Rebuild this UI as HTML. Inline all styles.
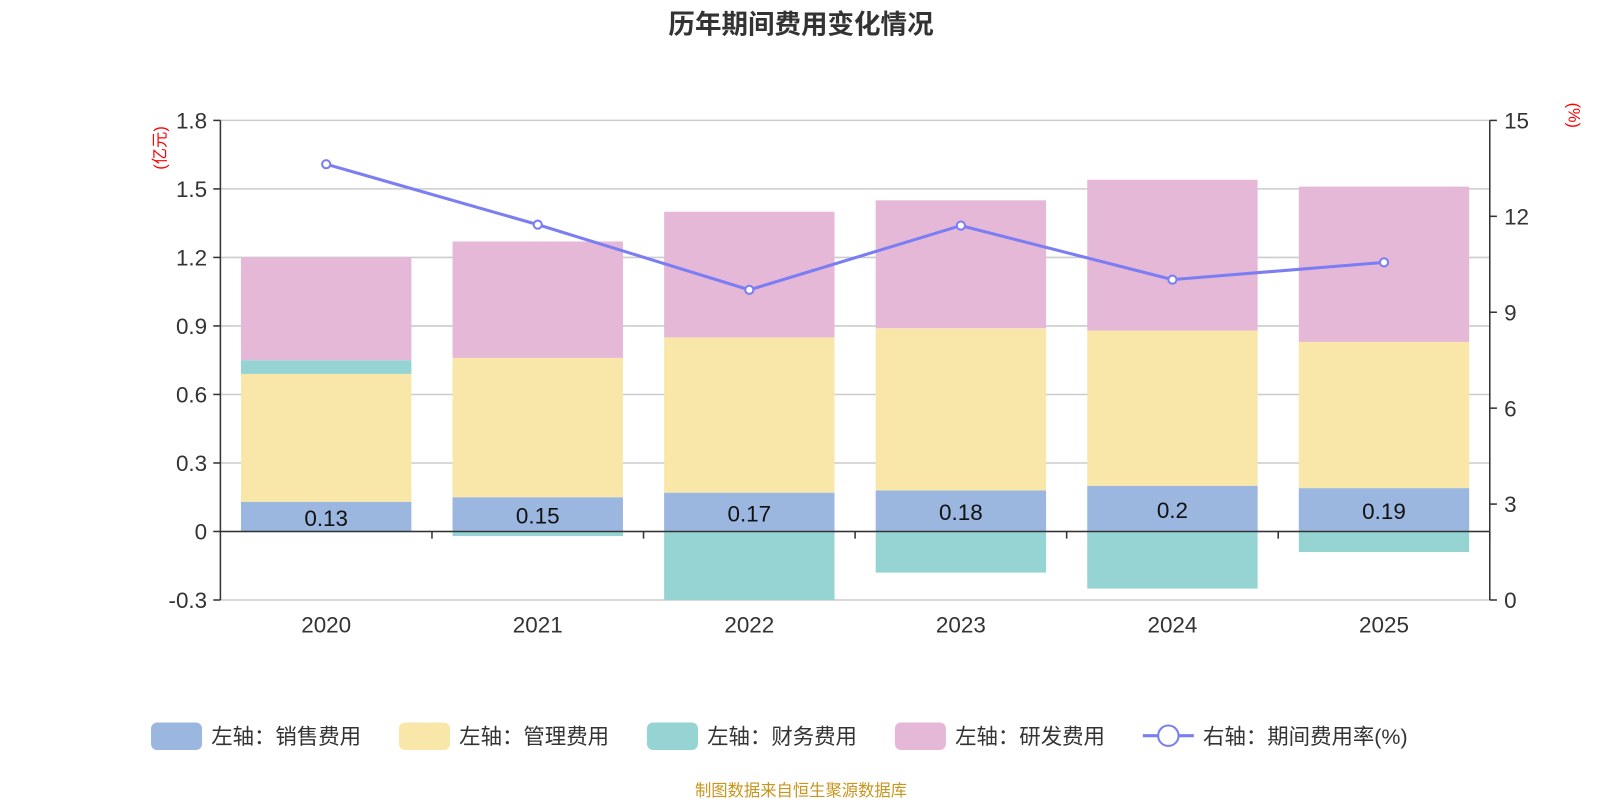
<!DOCTYPE html>
<html><head><meta charset="utf-8"><style>
body{margin:0;background:#fff;font-family:"Liberation Sans","Noto Sans CJK SC",sans-serif;}
svg text{font-family:"Liberation Sans","Noto Sans CJK SC",sans-serif;}
</style></head><body>
<svg id="chart" width="1600" height="800" xmlns="http://www.w3.org/2000/svg">
<g transform="scale(1.0204)">
<text x="785" y="33" text-anchor="middle" font-size="26" font-weight="bold" fill="#333">历年期间费用变化情况</text>
<g id="grid"></g><g id="bars"></g><g id="axes"></g><g id="line"></g>
<text transform="translate(162,145) rotate(-90)" text-anchor="middle" font-size="16" fill="red">(亿元)</text>
<text transform="translate(1537,113) rotate(90)" text-anchor="middle" font-size="16" fill="red">(%)</text>
<g>
<g><rect x="148" y="708" width="50" height="27" rx="6" fill="#9bb7e0"/><text x="207" y="729" font-size="21" fill="#333">左轴：销售费用</text></g>
<g><rect x="391" y="708" width="50" height="27" rx="6" fill="#f8e7a8"/><text x="450" y="729" font-size="21" fill="#333">左轴：管理费用</text></g>
<g><rect x="634" y="708" width="50" height="27" rx="6" fill="#96d4d4"/><text x="693" y="729" font-size="21" fill="#333">左轴：财务费用</text></g>
<g><rect x="877" y="708" width="50" height="27" rx="6" fill="#e6b8d8"/><text x="936" y="729" font-size="21" fill="#333">左轴：研发费用</text></g>
<g><line x1="1120" y1="721" x2="1170" y2="721" stroke="#7b7ef2" stroke-width="3"/><circle cx="1145" cy="721" r="10" fill="#fff" stroke="#7b7ef2" stroke-width="2"/><text x="1179" y="729" font-size="21" fill="#333">右轴：期间费用率(%)</text></g>
</g>
<text x="785" y="780" text-anchor="middle" font-size="16" fill="#c8961e">制图数据来自恒生聚源数据库</text>
</g>
</svg>
<script>
const years=["2020","2021","2022","2023","2024","2025"];
const sales=[0.13,0.15,0.17,0.18,0.2,0.19];
const admin=[0.56,0.61,0.68,0.71,0.68,0.64];
const finance=[0.06,-0.02,-0.30,-0.18,-0.25,-0.09];
const rd=[0.45,0.51,0.55,0.56,0.66,0.68];
const rate=[13.63,11.74,9.70,11.71,10.02,10.56];
const leftTicks=[-0.3,0,0.3,0.6,0.9,1.2,1.5,1.8];
const rightTicks=[0,3,6,9,12,15];
const NS="http://www.w3.org/2000/svg";
const X0=216,X1=1460,TOP=118,BOT=588;
const yL=v=>BOT-(v+0.3)/2.1*(BOT-TOP);
const yR=v=>BOT-v/15*(BOT-TOP);
const cw=(X1-X0)/years.length;
const xC=i=>X0+cw*(i+0.5);
function mk(t,a,p){const e=document.createElementNS(NS,t);for(const k in a)e.setAttribute(k,a[k]);p.appendChild(e);return e;}
const grid=document.getElementById('grid'),bars=document.getElementById('bars'),axes=document.getElementById('axes'),line=document.getElementById('line');
leftTicks.forEach(v=>{const y=yL(v);
 const g=mk('line',{x1:X0,x2:X1,y1:y,y2:y,stroke:'#ccc','stroke-width':1.5},grid);
 
 
 mk('line',{x1:X0-7,x2:X0,y1:y,y2:y,stroke:'#333','stroke-width':1.5},axes);
 const t=mk('text',{x:X0-13,y:y+8,'text-anchor':'end','font-size':22,fill:'#333'},axes);t.textContent=String(v);
 
 });
rightTicks.forEach(v=>{const y=yR(v);
 mk('line',{x1:X1,x2:X1+7,y1:y,y2:y,stroke:'#333','stroke-width':1.5},axes);
 const t=mk('text',{x:X1+14,y:y+8,'font-size':22,fill:'#333'},axes);t.textContent=String(v);
 
 });
mk('line',{x1:X0,x2:X0,y1:TOP,y2:BOT,stroke:'#333','stroke-width':1.5},axes);
mk('line',{x1:X1,x2:X1,y1:TOP,y2:BOT,stroke:'#333','stroke-width':1.5},axes);
mk('line',{x1:X0,x2:X1,y1:yL(0),y2:yL(0),stroke:'#333','stroke-width':1.5},axes);
const bw=167;
years.forEach((yr,i)=>{
 mk('line',{x1:X0+cw*(i+1),x2:X0+cw*(i+1),y1:yL(0),y2:yL(0)+7,stroke:'#333','stroke-width':1.5},axes);
 const t=mk('text',{x:xC(i),y:620,'text-anchor':'middle','font-size':22,fill:'#333'},axes);t.textContent=yr;
 
 
 let pos=0,neg=0;
 [[sales,'#9bb7e0','bar-sales'],[admin,'#f8e7a8','bar-admin'],[finance,'#96d4d4','bar-finance'],[rd,'#e6b8d8','bar-rd']].forEach(([arr,c,n])=>{
  const v=arr[i];let a,b;
  if(v>=0){a=pos;b=pos+v;pos=b;}else{a=neg;b=neg+v;neg=b;}
  const y1=yL(Math.max(a,b)),y2=yL(Math.min(a,b));
  const r=mk('rect',{x:xC(i)-bw/2,y:y1,width:bw,height:y2-y1,fill:c},bars);
  
  
 });
 const lb=mk('text',{x:xC(i),y:(yL(0)+yL(sales[i]))/2+9,'text-anchor':'middle','font-size':22,fill:'#111'},bars);lb.textContent=String(sales[i]);
 
 
});
const pts=rate.map((v,i)=>xC(i)+','+yR(v)).join(' ');
const pl=mk('polyline',{points:pts,fill:'none',stroke:'#7b7ef2','stroke-width':3},line);


rate.forEach((v,i)=>{const c=mk('circle',{cx:xC(i),cy:yR(v),r:4,fill:'#fff',stroke:'#7b7ef2','stroke-width':2},line);
 
 });
</script>
</body></html>
